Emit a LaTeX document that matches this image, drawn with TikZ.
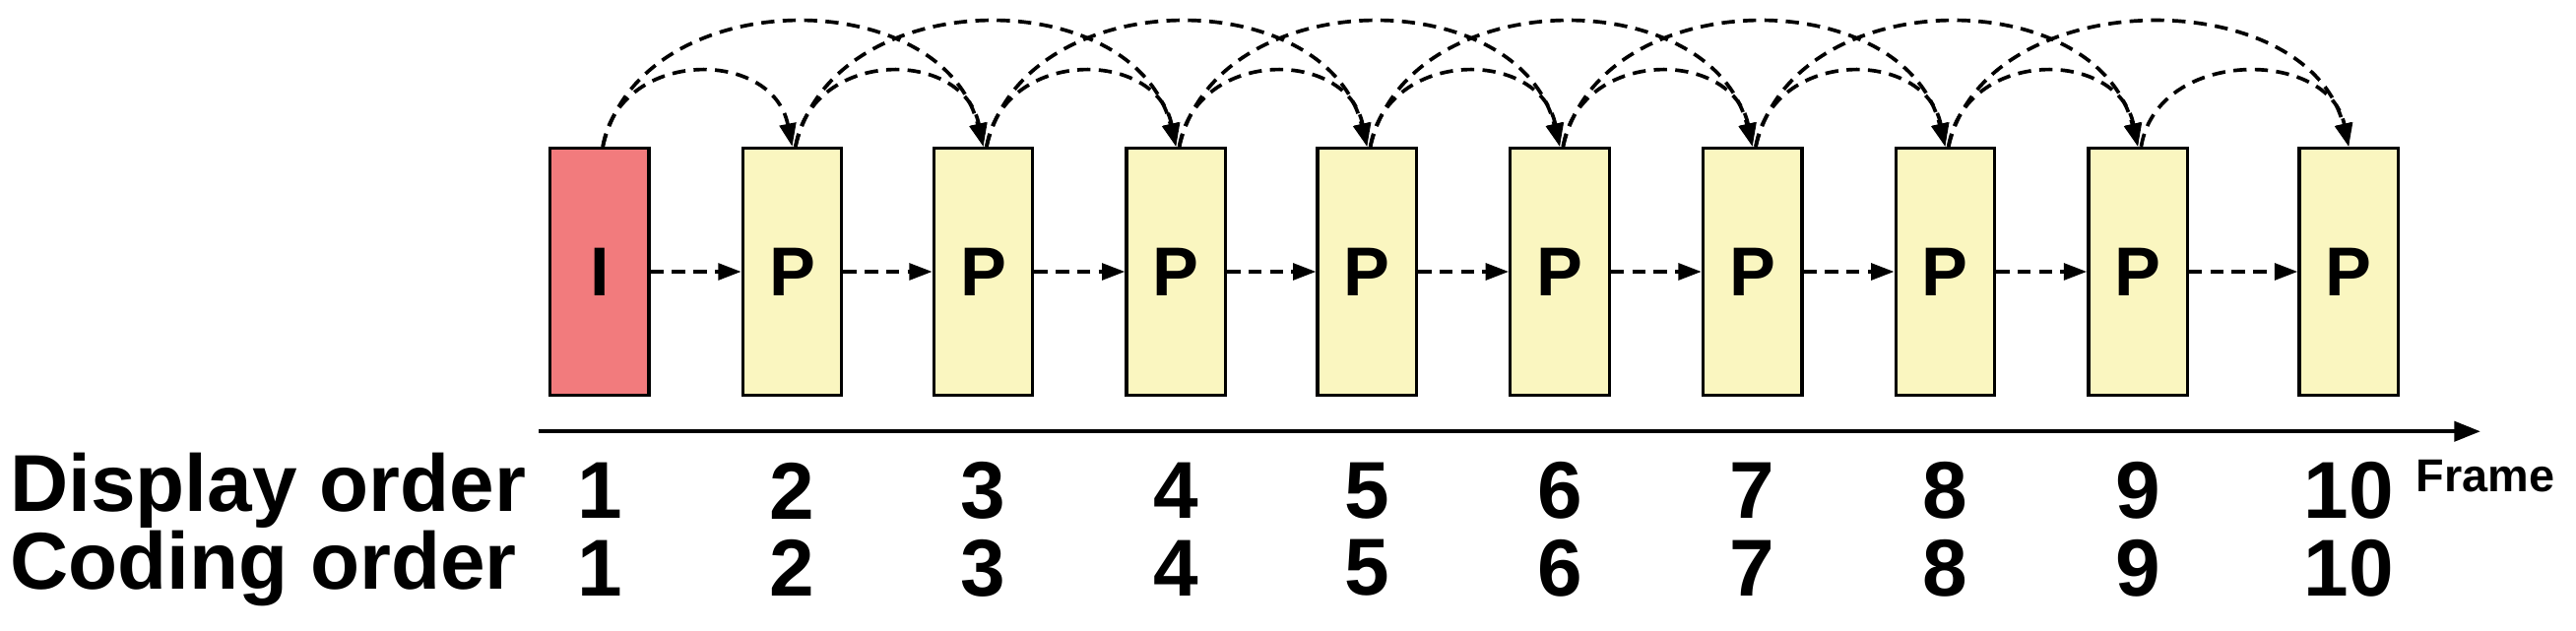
\documentclass[tikz,border=0pt]{standalone}
\usepackage{fontspec}
\setmainfont{Liberation Sans}
\usetikzlibrary{arrows.meta}
\definecolor{ired}{HTML}{F27B7D}
\definecolor{pyel}{HTML}{FAF6C0}
\begin{document}
\begin{tikzpicture}[x=1pt,y=-1pt,
  frm/.style={draw=black,line width=2pt,minimum width=60pt,minimum height=150pt,inner sep=0pt,font=\fontsize{42}{42}\selectfont\bfseries},
  lbl/.style={font=\fontsize{49}{49}\selectfont\bfseries,inner sep=0pt},
  ref/.style={line width=2.2pt,dash pattern=on 8pt off 5pt,-{Triangle[length=14pt,width=10pt]}}]
\useasboundingbox (0,0) rectangle (1564,383);
\def\xs{364,481,597,714,830,947,1064,1181,1298,1426}
\foreach \x [count=\i] in \xs {
  \ifnum\i=1
    \node[frm,fill=ired] (f\i) at (\x,165) {I};
  \else
    \node[frm,fill=pyel] (f\i) at (\x,165) {P};
  \fi
  \node[lbl] (d\i) at (\x,298) {\i};
  \node[lbl] (c\i) at (\x,345) {\i};
}
\foreach \i [remember=\i as \j (initially 1)] in {2,...,10} {
  \draw[ref] (f\j.east) -- (f\i.west);
}
\foreach \i [evaluate=\i as \j using int(\i-1)] in {2,...,10} {
  \draw[ref] ([xshift=2pt]f\j.north) .. controls ([xshift=12pt,yshift=60pt]f\j.north) and ([xshift=-12pt,yshift=60pt]f\i.north) .. (f\i.north);
}
\foreach \i [evaluate=\i as \j using int(\i-2)] in {3,...,10} {
  \draw[ref] ([xshift=2pt]f\j.north) .. controls ([xshift=25pt,yshift=100pt]f\j.north) and ([xshift=-25pt,yshift=100pt]f\i.north) .. (f\i.north);
}
\draw[line width=2.5pt,-{Triangle[length=16pt,width=12pt]}] (327,262) coordinate (a0) -- (1506,262) coordinate (a1);
\node[lbl,anchor=west] (dl) at (6,298) {Display order};
\node[lbl,anchor=west] (cl) at (6,345) {Coding order};
\node[font=\fontsize{28}{28}\selectfont\bfseries,inner sep=0pt] (fr) at (1509,289) {Frame};
\end{tikzpicture}
\end{document}
